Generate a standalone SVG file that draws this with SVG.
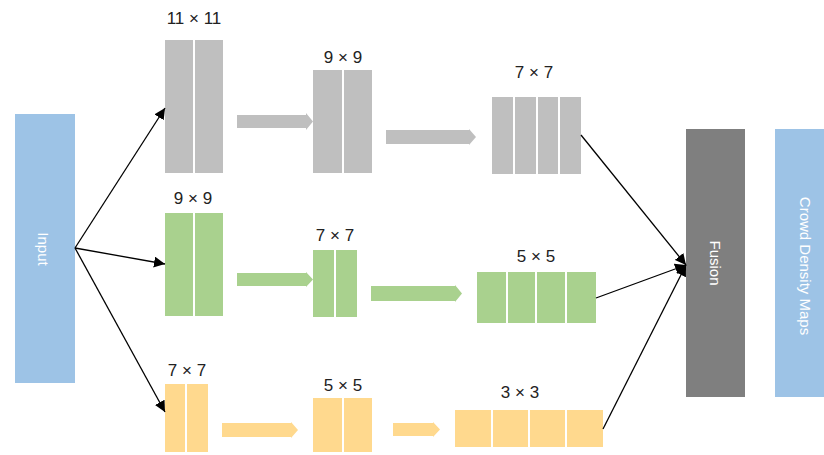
<svg xmlns="http://www.w3.org/2000/svg" width="824" height="455" viewBox="0 0 824 455">
<defs>
<style>
.lbl{font-family:"Liberation Sans",Arial,sans-serif;font-size:17px;fill:#222;text-anchor:middle}
.in{font-family:"Liberation Sans",Arial,sans-serif;font-size:15px;fill:#fff;text-anchor:middle}
.gray{fill:#BFBFBF}
.green{fill:#A9D18E}
.yellow{fill:#FFD98E}
.blue{fill:#9DC3E6}
.div{stroke:#fff;stroke-width:2}
.con{stroke:#000;stroke-width:1.3;fill:none;marker-end:url(#ah)}
</style>
<marker id="ah" viewBox="0 0 10 10" refX="10" refY="5" markerWidth="11" markerHeight="11" markerUnits="userSpaceOnUse" orient="auto">
<path d="M0,0 L10,5 L0,10 z" fill="#000"/>
</marker>
</defs>
<rect width="824" height="455" fill="#fff"/>

<g id="input">
<rect class="blue" x="15" y="114" width="60" height="269"/>
<text class="in" transform="translate(43,249) rotate(90)" dy="5">Input</text>
</g>

<g id="g1">
<text class="lbl" x="194" y="24">11 × 11</text>
<rect class="gray" x="165" y="40" width="58" height="133"/>
<line class="div" x1="194" y1="40" x2="194" y2="173"/>
</g>
<g id="g2">
<text class="lbl" x="343" y="63">9 × 9</text>
<rect class="gray" x="313" y="70" width="59" height="103"/>
<line class="div" x1="343" y1="70" x2="343" y2="173"/>
</g>
<g id="g3">
<text class="lbl" x="534" y="78">7 × 7</text>
<rect class="gray" x="492" y="97" width="89" height="77"/>
<line class="div" x1="514" y1="97" x2="514" y2="174"/>
<line class="div" x1="537" y1="97" x2="537" y2="174"/>
<line class="div" x1="559" y1="97" x2="559" y2="174"/>
</g>

<g id="n1">
<text class="lbl" x="193" y="204">9 × 9</text>
<rect class="green" x="165" y="213" width="58" height="103"/>
<line class="div" x1="194" y1="213" x2="194" y2="316"/>
</g>
<g id="n2">
<text class="lbl" x="335" y="241">7 × 7</text>
<rect class="green" x="313" y="250" width="44" height="67"/>
<line class="div" x1="335" y1="250" x2="335" y2="317"/>
</g>
<g id="n3">
<text class="lbl" x="536" y="262">5 × 5</text>
<rect class="green" x="477" y="272" width="119" height="51"/>
<line class="div" x1="507" y1="272" x2="507" y2="323"/>
<line class="div" x1="536" y1="272" x2="536" y2="323"/>
<line class="div" x1="566" y1="272" x2="566" y2="323"/>
</g>

<g id="y1">
<text class="lbl" x="187" y="376">7 × 7</text>
<rect class="yellow" x="165" y="384" width="43" height="68"/>
<line class="div" x1="186" y1="384" x2="186" y2="452"/>
</g>
<g id="y2">
<text class="lbl" x="343" y="391">5 × 5</text>
<rect class="yellow" x="313" y="398" width="59" height="54"/>
<line class="div" x1="343" y1="398" x2="343" y2="452"/>
</g>
<g id="y3">
<text class="lbl" x="520" y="398">3 × 3</text>
<rect class="yellow" x="455" y="410" width="148" height="37"/>
<line class="div" x1="492" y1="410" x2="492" y2="447"/>
<line class="div" x1="529" y1="410" x2="529" y2="447"/>
<line class="div" x1="566" y1="410" x2="566" y2="447"/>
</g>

<g id="fusion">
<rect x="686" y="129" width="59" height="268" fill="#7F7F7F"/>
<text class="in" transform="translate(715,263) rotate(90)" dy="5">Fusion</text>
</g>
<g id="output">
<rect class="blue" x="775" y="129" width="49" height="268"/>
<text class="in" transform="translate(805,266) rotate(90)" dy="5">Crowd Density Maps</text>
</g>

<g id="connectors">
<polygon class="gray" points="237,115 306,115 306,113 313,121.5 306,130 306,128 237,128"/>
<polygon class="gray" points="386,130 469,130 469,129 476,137 469,145 469,144 386,144"/>
<polygon class="green" points="237,273 306,273 306,272 313,279.5 306,287 306,286 237,286"/>
<polygon class="green" points="371,286 455,286 455,285 462,293.5 455,302 455,301 371,301"/>
<polygon class="yellow" points="222,423 291,423 291,422 298,430 291,438 291,437 222,437"/>
<polygon class="yellow" points="393,423 433,423 433,422 440,429.5 433,437 433,436 393,436"/>
<line class="con" x1="75" y1="248" x2="165" y2="108"/>
<line class="con" x1="75" y1="248" x2="165" y2="264"/>
<line class="con" x1="75" y1="248" x2="165" y2="412"/>
<line class="con" x1="581" y1="135" x2="686" y2="265"/>
<line class="con" x1="596" y1="298" x2="686" y2="265"/>
<line class="con" x1="603" y1="429" x2="686" y2="265"/>
</g>
</svg>
